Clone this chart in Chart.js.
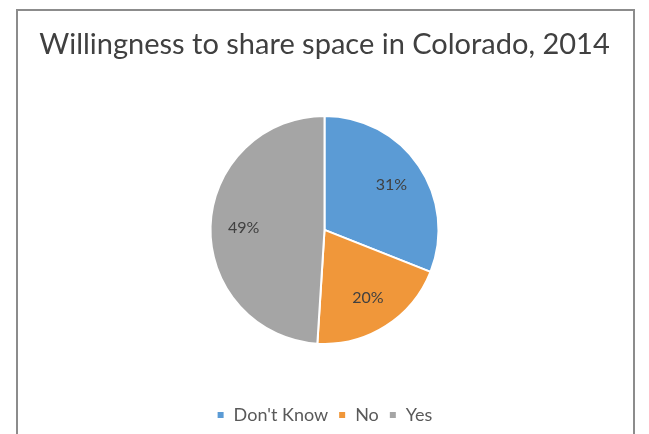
<!DOCTYPE html>
<html>
<head>
<meta charset="utf-8">
<script src="https://cdn.jsdelivr.net/npm/chart.js@4"></script>
<style>
  body { margin: 0; background: #fff; }
  #wrap { position: relative; width: 649px; height: 434px; }
  #frame {
    position: absolute; left: 16px; top: 9px; width: 615px; height: 440px;
    border: 2px solid #8c8c8c; border-bottom: none;
  }
  #grafico { position: absolute; left: 0; top: 0; }
</style>
</head>
<body>
<div id="wrap">
  <div id="frame"></div>
  <canvas id="grafico" width="649" height="434"></canvas>
</div>
<script>
// categorias e valores (%)
var labels = ["Don't Know", 'No', 'Yes'];
var values = [31, 20, 49];
var colors = ['#5b9bd5', '#f0973a', '#a5a5a5'];

// escreve o valor de cada fatia dentro dela
var rotulos = {
  id: 'rotulos',
  afterDatasetsDraw: function (chart) {
    var ctx = chart.ctx;
    var meta = chart.getDatasetMeta(0);
    ctx.save();
    ctx.font = '16px Lato';
    ctx.fillStyle = '#404040';
    ctx.textAlign = 'center';
    ctx.textBaseline = 'middle';
    meta.data.forEach(function (arc, i) {
      var p = arc.getProps(['x', 'y', 'startAngle', 'endAngle', 'outerRadius']);
      var meio = (p.startAngle + p.endAngle) / 2;
      var r = p.outerRadius * 0.71;
      ctx.fillText(values[i] + '%', p.x + Math.cos(meio) * r, p.y + Math.sin(meio) * r);
    });
    ctx.restore();
  }
};

var ctx = document.querySelector('#grafico').getContext('2d');
var pieChart = new Chart(ctx, {
  type: 'pie',
  data: {
    labels: labels,
    datasets: [{
      data: values,
      backgroundColor: colors,
      borderColor: '#ffffff',
      borderWidth: 2
    }]
  },
  options: {
    responsive: false,
    animation: false,
    radius: 114,
    layout: { padding: { bottom: 0 } },
    plugins: {
      title: {
        display: true,
        text: 'Willingness to share space in Colorado, 2014',
        color: '#404040',
        font: { family: 'Lato', size: 29, weight: 'normal' },
        padding: { top: 27, bottom: 2 }
      },
      legend: {
        position: 'bottom',
        labels: {
          color: '#595959',
          font: { family: 'Lato', size: 18 },
          boxWidth: 8,
          boxHeight: 8,
          padding: 10
        }
      },
      tooltip: { enabled: false }
    }
  },
  plugins: [rotulos]
});
</script>
</body>
</html>
